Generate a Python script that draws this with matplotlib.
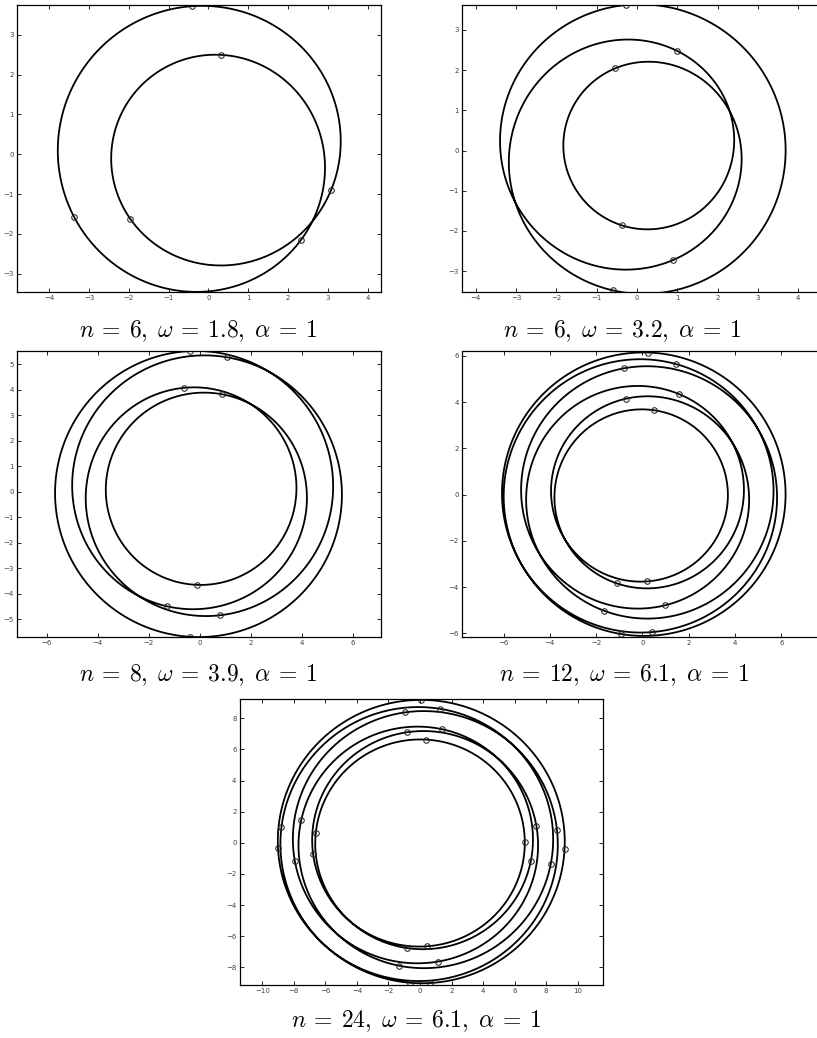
import numpy as np
import matplotlib.pyplot as plt
from matplotlib.patches import Polygon

plt.rcParams['mathtext.fontset'] = 'cm'
plt.rcParams['font.family'] = ['DejaVu Sans']

captions = [r"$n\:=\:6,\;\omega\:=\:1.8,\;\alpha\:=\:1$",
            r"$n\:=\:6,\;\omega\:=\:3.2,\;\alpha\:=\:1$",
            r"$n\:=\:8,\;\omega\:=\:3.9,\;\alpha\:=\:1$",
            r"$n\:=\:12,\;\omega\:=\:6.1,\;\alpha\:=\:1$",
            r"$n\:=\:24,\;\omega\:=\:6.1,\;\alpha\:=\:1$"]

# orbit shape: r = R + eps*cos(p) + eps2*cos(2p),
# p = phase + spin*phi/windings, phi running over all the windings
windings = [2, 3, 4, 6, 6]
mean_radius = [3.11, 2.84, 4.70, 5.03, 7.90]
ripple = [0.70, 0.89, 1.03, 1.25, 1.28]
ripple_tilt = [0.0, 0.10, 0.0, 0.0, 0.0]
ripple_tilt_dir = [0, 210, 0, 0, 0]
ripple2 = [0.0, 0.0, -0.03, -0.12, -0.03]
phase = [-73.5, -7.7, 30.0, -5.0, 8.0]
spin = [1, 1, 1, 1, -1]
centre_x = [0.0, 0.05, 0.0, 0.02, 0.045]
centre_y = [0.0, 0.02, 0.0, 0.0, 0.04]

# bodies (read positions)
bodies_x = [
    [-0.41, 0.31, 3.07, 2.32, -1.95, -3.38],
    [-0.28, 1.05, -0.51, -0.36, 0.95, -0.60],
    [-0.38, 1.10, -0.60, 0.89, -0.09, -1.29, 0.80, -0.38],
    [0.26, 1.47, -0.81, 1.61, -0.69, 0.50, 0.20, -1.12, 0.95, -1.67, 0.42, -0.92],
    [0.06, 1.27, -0.97, 1.40, -0.85, 0.36, -0.63, 0.63, -1.37, 1.18, -0.85, 0.47,
     -9.05, -8.75, -7.99, -7.55, -6.83, -6.55, 9.18, 8.71, 8.33, 7.46, 7.06, 6.60],
]
bodies_y = [
    [3.72, 2.46, -0.88, -2.14, -1.61, -1.58],
    [3.58, 2.56, 1.96, -1.82, -2.83, -3.44],
    [5.51, 5.29, 4.02, 3.81, -3.63, -4.50, -4.80, -5.69],
    [6.20, 5.67, 5.45, 4.36, 4.15, 3.62, -3.74, -3.85, -4.80, -5.03, -6.00, -6.10],
    [9.22, 8.68, 8.47, 7.42, 7.14, 6.61, -9.13, -8.96, -8.06, -7.80, -6.88, -6.69,
     -0.35, 1.00, -1.15, 1.45, -0.70, 0.61, -0.40, 0.82, -1.38, 1.08, -1.17, 0.03],
]

xlims = [(-4.80, 4.33), (-4.33, 4.68), (-7.15, 7.10), (-7.78, 7.91), (-11.42, 11.63)]
ylims = [(-3.46, 3.75), (-3.52, 3.62), (-5.69, 5.51), (-6.16, 6.19), (-9.13, 9.22)]
xticks = [np.arange(-4, 5, 1), np.arange(-4, 5, 1), np.arange(-6, 7, 2),
          np.arange(-6, 7, 2), np.arange(-10, 11, 2)]
yticks = [np.arange(-3, 4, 1), np.arange(-3, 4, 1), np.arange(-5, 6, 1),
          np.arange(-6, 7, 2), np.arange(-8, 9, 2)]

W, H = 817, 1038
# axes boxes in pixels: left, top, width, height
boxes = [(17.3, 5, 363.4, 287), (462.3, 5, 363.4, 287),
         (17.3, 351, 363.4, 286), (462.3, 351.5, 363.4, 285.5),
         (240, 699.3, 363.3, 285.7)]
cap_pos = [(198.5, 337), (621.7, 337), (198.5, 681), (624, 681), (416, 1027)]


def orbit(i):
    w = windings[i]
    phi = np.radians(np.linspace(0, 360 * w, 2000 * w, endpoint=False))
    p = np.radians(phase[i]) + spin[i] * phi / w
    amp = ripple[i] + ripple_tilt[i] * np.cos(phi - np.radians(ripple_tilt_dir[i]))
    r = mean_radius[i] + amp * np.cos(p) + ripple2[i] * np.cos(2 * p)
    return centre_x[i] + r * np.cos(phi), centre_y[i] + r * np.sin(phi)


fig = plt.figure(figsize=(W / 100, H / 100), dpi=100)

for i in range(5):
    l, t, bw, bh = boxes[i]
    ax = fig.add_axes([l / W, 1 - (t + bh) / H, bw / W, bh / H])
    x, y = orbit(i)
    # closed path, so there is no seam where the orbit meets itself
    ax.add_patch(Polygon(np.column_stack([x, y]), closed=True, fill=False,
                         ec='black', lw=1.3, joinstyle='round'))
    # put each body on the drawn orbit
    bx, by = [], []
    for px, py in zip(bodies_x[i], bodies_y[i]):
        k = np.argmin((x - px) ** 2 + (y - py) ** 2)
        bx.append(x[k])
        by.append(y[k])
    ax.plot(bx, by, 'o', mfc='none', mec='0.15', ms=4, mew=0.75)
    ax.set_xlim(*xlims[i])
    ax.set_ylim(*ylims[i])
    ax.set_xticks(xticks[i])
    ax.set_yticks(yticks[i])
    ax.tick_params(direction='in', length=3, width=0.6, top=True, right=True,
                   labelsize=5, labelcolor='0.25', pad=2.5)
    for s in ax.spines.values():
        s.set_linewidth(0.9)
    fig.text(cap_pos[i][0] / W, 1 - cap_pos[i][1] / H, captions[i],
             ha='center', va='baseline', fontsize=17)

fig.savefig('out.png', dpi=100)
